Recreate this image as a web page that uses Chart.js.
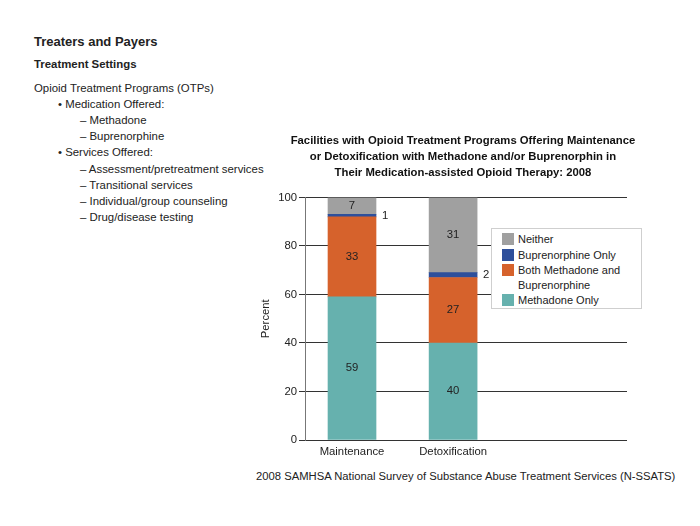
<!DOCTYPE html>
<html>
<head>
<meta charset="utf-8">
<script src="https://cdn.jsdelivr.net/npm/chart.js@4"></script>
<style>
  body { margin: 0; background: #fff; font-family: "Liberation Sans", Arial, sans-serif; color: #222; }
  #page { position: relative; width: 700px; height: 526px; overflow: hidden; }
  .t { position: absolute; white-space: nowrap; font-size: 11.4px; line-height: 14px; }
  #legend { position: absolute; left: 491px; top: 228px; width: 149px; height: 79px; border: 1px solid #cfcfcf; background: #fff; font-size: 11px; color: #222; }
  .li { position: absolute; left: 10px; }
  .sw { position: absolute; left: 0; top: 1px; width: 12px; height: 12px; }
  .lt { position: absolute; left: 16px; top: 0; line-height: 14.5px; white-space: nowrap; }
</style>
</head>
<body>
<div id="page">
  <div class="t" style="left:34px;top:34px;font-size:13px;font-weight:bold;line-height:16px;">Treaters and Payers</div>
  <div class="t" style="left:34px;top:57px;font-weight:bold;">Treatment Settings</div>
  <div class="t" style="left:34px;top:81px;">Opioid Treatment Programs (OTPs)</div>
  <div class="t" style="left:58px;top:97px;">• Medication Offered:</div>
  <div class="t" style="left:80px;top:113px;">– Methadone</div>
  <div class="t" style="left:80px;top:129px;">– Buprenorphine</div>
  <div class="t" style="left:58px;top:145px;">• Services Offered:</div>
  <div class="t" style="left:80px;top:162px;">– Assessment/pretreatment services</div>
  <div class="t" style="left:80px;top:178px;">– Transitional services</div>
  <div class="t" style="left:80px;top:194px;">– Individual/group counseling</div>
  <div class="t" style="left:80px;top:210px;">– Drug/disease testing</div>

  <canvas id="chart" width="412" height="335" style="position:absolute;left:255px;top:125px;"></canvas>

  <div id="legend"></div>

  <div class="t" style="left:256px;top:469px;font-size:11.25px;">2008 SAMHSA National Survey of Substance Abuse Treatment Services (N-SSATS)</div>
</div>
<script>
const categories = ['Maintenance', 'Detoxification'];
const methadoneOnly = [59, 40];
const bothMethBup = [33, 27];
const buprenorphineOnly = [1, 2];
const neither = [7, 31];
const yTicks = [0, 20, 40, 60, 80, 100];

const titleLines = [
  'Facilities with Opioid Treatment Programs Offering Maintenance',
  'or Detoxification with Methadone and/or Buprenorphin in',
  'Their Medication-assisted Opioid Therapy: 2008'
];

// bar x positions are just the category indexes
const toPts = arr => arr.map((v, i) => ({ x: i, y: v }));

const series = [
  { label: 'Methadone Only', data: methadoneOnly, color: '#66b1ae' },
  { label: 'Both Methadone and Buprenorphine', data: bothMethBup, color: '#d6622c' },
  { label: 'Buprenorphine Only', data: buprenorphineOnly, color: '#2e4f9b' },
  { label: 'Neither', data: neither, color: '#a0a0a0' }
];

const FONT = '"Liberation Sans", Arial, sans-serif';

// value labels: inside the segment, or to the right when the segment is too thin
const segLabels = {
  id: 'segLabels',
  afterDatasetsDraw(chart) {
    const ctx = chart.ctx;
    ctx.save();
    ctx.font = '11.3px ' + FONT;
    ctx.fillStyle = '#222';
    ctx.textBaseline = 'middle';
    chart.data.datasets.forEach((ds, di) => {
      chart.getDatasetMeta(di).data.forEach((bar, i) => {
        const v = ds.data[i].y;
        const yMid = (bar.y + bar.base) / 2;
        if (v < 5) {
          ctx.textAlign = 'left';
          ctx.fillText(v, bar.x + bar.width / 2 + 6, yMid);
        } else {
          ctx.textAlign = 'center';
          ctx.fillText(v, bar.x, yMid);
        }
      });
    });
    ctx.restore();
  }
};

new Chart(document.getElementById('chart'), {
  type: 'bar',
  data: {
    datasets: series.map(s => ({
      label: s.label,
      data: toPts(s.data),
      backgroundColor: s.color,
      borderWidth: 0,
      barThickness: 48
    }))
  },
  options: {
    responsive: false,
    animation: false,
    layout: { padding: { left: 4 } },
    plugins: {
      legend: { display: false },
      tooltip: { enabled: false },
      title: {
        display: true,
        text: titleLines,
        color: '#111',
        font: { family: FONT, size: 11.3, weight: 'bold', lineHeight: 1.4 },
        padding: { top: 8, bottom: 17 }
      }
    },
    scales: {
      x: {
        type: 'linear',
        stacked: true,
        offset: false,
        min: -0.465,
        max: 2.72,
        grid: { display: false, drawTicks: false },
        border: { display: false },
        afterBuildTicks: s => { s.ticks = categories.map((c, i) => ({ value: i })); },
        afterFit: s => { s.height = 20; },
        ticks: {
          padding: 5,
          color: '#222',
          font: { family: FONT, size: 11.3 },
          callback: v => categories[v]
        }
      },
      y: {
        stacked: true,
        min: 0,
        max: 100,
        afterBuildTicks: s => { s.ticks = yTicks.map(v => ({ value: v })); },
        afterFit: s => { s.width = 46; },
        grid: { color: '#333', lineWidth: 1, tickLength: 6 },
        border: { color: '#777', width: 1 },
        ticks: {
          padding: 2,
          color: '#222',
          font: { family: FONT, size: 11.3 }
        },
        title: {
          display: true,
          text: 'Percent',
          color: '#222',
          padding: 0,
          font: { family: FONT, size: 11.3 }
        }
      },
      // empty right-hand strip so the chart area stops short of the canvas edge
      spacer: {
        type: 'linear',
        position: 'right',
        grid: { display: false },
        border: { display: false },
        ticks: { display: false },
        afterFit: s => { s.width = 40; }
      }
    }
  },
  plugins: [segLabels]
});

// legend, top series first
const legend = document.getElementById('legend');
const legendTops = [3, 19, 34, 64];
series.slice().reverse().forEach((s, k) => {
  const item = document.createElement('div');
  item.className = 'li';
  item.style.top = legendTops[k] + 'px';
  const lbl = s.label === 'Both Methadone and Buprenorphine' ? 'Both Methadone and<br>Buprenorphine' : s.label;
  item.innerHTML = '<div class="sw" style="background:' + s.color + '"></div><div class="lt">' + lbl + '</div>';
  legend.appendChild(item);
});
</script>
</body>
</html>
